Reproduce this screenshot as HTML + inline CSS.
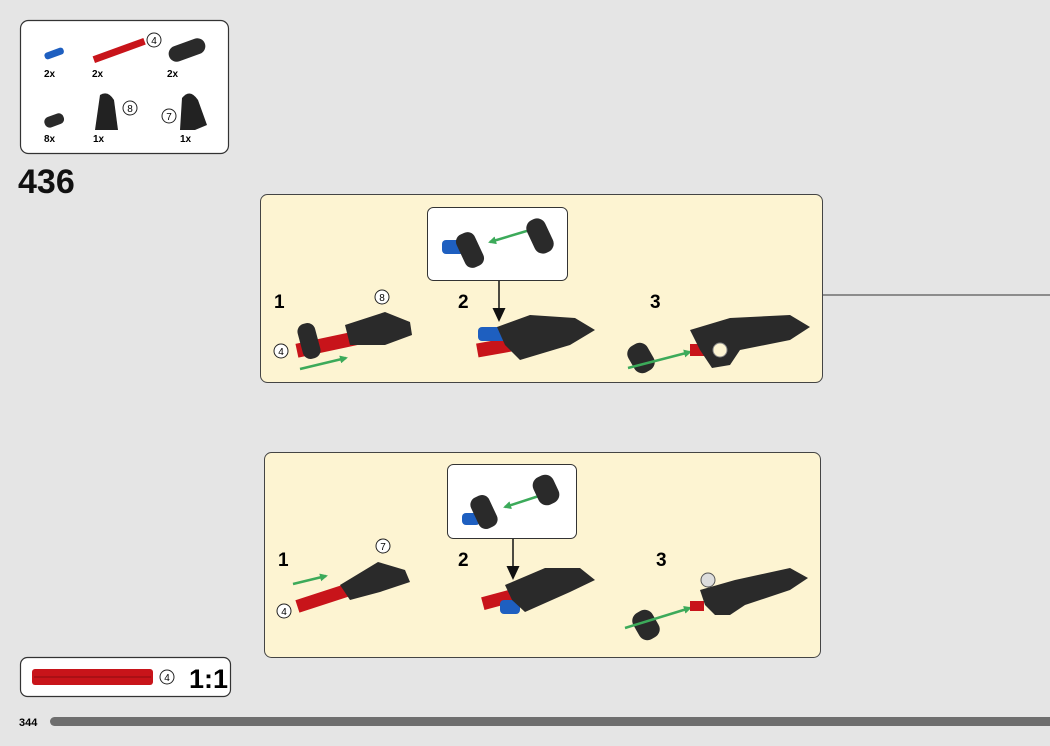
<!DOCTYPE html>
<html><head><meta charset="utf-8"><style>
body{margin:0;width:1050px;height:746px;background:#e5e5e5;overflow:hidden;font-family:"Liberation Sans",sans-serif}
svg{position:absolute;left:0;top:0}
</style></head><body>
<svg width="1050" height="746" viewBox="0 0 1050 746" font-family="Liberation Sans, sans-serif">
<defs>
<marker id="ga" markerWidth="8" markerHeight="8" refX="6" refY="4" orient="auto" markerUnits="userSpaceOnUse"><path d="M0,0 L8,4 L0,8z" fill="#3caa5a"/></marker>
</defs>
<!-- parts list -->
<rect x="20.5" y="20.5" width="208" height="133" rx="8" fill="#fff" stroke="#333" stroke-width="1.2"/>
<rect x="44" y="50" width="20" height="7" rx="3" fill="#1e5fc0" transform="rotate(-20 54 53)"/>
<rect x="92" y="47" width="54" height="7" fill="#c8141a" transform="rotate(-20 119 50)"/>
<circle cx="154" cy="40" r="7" fill="#fff" stroke="#222"/><text x="154" y="44" font-size="10" text-anchor="middle">4</text>
<rect x="168" y="42" width="38" height="16" rx="8" fill="#2a2a2a" transform="rotate(-20 187 50)"/>
<text x="44" y="77" font-size="10" font-weight="bold">2x</text><text x="92" y="77" font-size="10" font-weight="bold">2x</text><text x="167" y="77" font-size="10" font-weight="bold">2x</text>
<rect x="44" y="115" width="20" height="11" rx="5" fill="#2a2a2a" transform="rotate(-20 54 120)"/>
<path d="M95,130 L100,95 Q108,90 114,100 L118,130z" fill="#222"/>
<circle cx="130" cy="108" r="7" fill="#fff" stroke="#222"/><text x="130" y="112" font-size="10" text-anchor="middle">8</text>
<path d="M180,130 L182,98 Q190,88 198,100 L207,125 L195,130z" fill="#222"/>
<circle cx="169" cy="116" r="7" fill="#fff" stroke="#222"/><text x="169" y="120" font-size="10" text-anchor="middle">7</text>
<text x="44" y="142" font-size="10" font-weight="bold">8x</text><text x="93" y="142" font-size="10" font-weight="bold">1x</text><text x="180" y="142" font-size="10" font-weight="bold">1x</text>
<text x="18" y="193" font-size="34" font-weight="bold" fill="#111">436</text>

<!-- panel 1 -->
<line x1="823" y1="295" x2="1050" y2="295" stroke="#333" stroke-width="1"/>
<rect x="260.5" y="194.5" width="562" height="188" rx="7" fill="#fdf4d2" stroke="#444" stroke-width="1"/>
<rect x="427.5" y="207.5" width="140" height="73" rx="6" fill="#fff" stroke="#333"/>
<rect x="442" y="240" width="22" height="14" rx="4" fill="#1e5fc0"/>
<rect x="460" y="232" width="20" height="36" rx="8" fill="#2a2a2a" transform="rotate(-25 470 250)"/>
<line x1="530" y1="230" x2="490" y2="242" stroke="#3caa5a" stroke-width="2.5" marker-end="url(#ga)"/>
<rect x="530" y="218" width="20" height="36" rx="9" fill="#2a2a2a" transform="rotate(-25 540 236)"/>
<line x1="499" y1="281" x2="499" y2="310" stroke="#111" stroke-width="1.5"/>
<path d="M492.5,308 L505.5,308 L499,322z" fill="#111"/>
<text x="274" y="308" font-size="19" font-weight="bold">1</text>
<text x="458" y="308" font-size="19" font-weight="bold">2</text>
<text x="650" y="308" font-size="19" font-weight="bold">3</text>
<rect x="296" y="335" width="85" height="14" fill="#c8141a" transform="rotate(-12 338 342)"/>
<rect x="300" y="323" width="18" height="36" rx="8" fill="#2a2a2a" transform="rotate(-15 309 341)"/>
<path d="M345,325 L385,312 L410,322 L412,335 L385,345 L350,345z" fill="#2a2a2a"/>
<circle cx="382" cy="297" r="7" fill="#fff" stroke="#222"/><text x="382" y="301" font-size="10" text-anchor="middle">8</text>
<circle cx="281" cy="351" r="7" fill="#fff" stroke="#222"/><text x="281" y="355" font-size="10" text-anchor="middle">4</text>
<line x1="300" y1="369" x2="346" y2="358" stroke="#3caa5a" stroke-width="2.5" marker-end="url(#ga)"/>
<rect x="477" y="340" width="40" height="14" fill="#c8141a" transform="rotate(-10 497 347)"/>
<rect x="478" y="327" width="30" height="14" rx="4" fill="#1e5fc0"/>
<path d="M497,327 L530,315 L575,318 L595,330 L570,345 L520,360 L505,345z" fill="#2a2a2a"/>
<rect x="630" y="343" width="22" height="30" rx="9" fill="#2a2a2a" transform="rotate(-30 641 358)"/>
<line x1="628" y1="368" x2="690" y2="352" stroke="#3caa5a" stroke-width="2.5" marker-end="url(#ga)"/>
<rect x="690" y="344" width="18" height="12" fill="#c8141a"/>
<path d="M690,330 L730,318 L790,315 L810,327 L790,340 L740,350 L730,365 L712,368 L700,350z" fill="#2a2a2a"/>
<circle cx="720" cy="350" r="7" fill="#fdf4d2" stroke="#888"/>

<!-- panel 2 -->
<rect x="264.5" y="452.5" width="556" height="205" rx="7" fill="#fdf4d2" stroke="#444"/>
<rect x="447.5" y="464.5" width="129" height="74" rx="6" fill="#fff" stroke="#333"/>
<rect x="462" y="513" width="18" height="12" rx="4" fill="#1e5fc0"/>
<rect x="474" y="495" width="20" height="34" rx="8" fill="#2a2a2a" transform="rotate(-25 484 512)"/>
<line x1="545" y1="494" x2="505" y2="507" stroke="#3caa5a" stroke-width="2.5" marker-end="url(#ga)"/>
<rect x="535" y="475" width="22" height="30" rx="9" fill="#2a2a2a" transform="rotate(-25 546 490)"/>
<line x1="513" y1="539" x2="513" y2="568" stroke="#111" stroke-width="1.5"/>
<path d="M506.5,566 L519.5,566 L513,580z" fill="#111"/>
<text x="278" y="566" font-size="19" font-weight="bold">1</text>
<text x="458" y="566" font-size="19" font-weight="bold">2</text>
<text x="656" y="566" font-size="19" font-weight="bold">3</text>
<line x1="293" y1="584" x2="326" y2="576" stroke="#3caa5a" stroke-width="2.5" marker-end="url(#ga)"/>
<rect x="296" y="590" width="65" height="13" fill="#c8141a" transform="rotate(-18 328 597)"/>
<path d="M340,585 L378,562 L405,570 L410,582 L380,592 L350,600z" fill="#2a2a2a"/>
<circle cx="383" cy="546" r="7" fill="#fff" stroke="#222"/><text x="383" y="550" font-size="10" text-anchor="middle">7</text>
<circle cx="284" cy="611" r="7" fill="#fff" stroke="#222"/><text x="284" y="615" font-size="10" text-anchor="middle">4</text>
<rect x="482" y="592" width="40" height="13" fill="#c8141a" transform="rotate(-15 502 598)"/>
<rect x="500" y="600" width="20" height="14" rx="4" fill="#1e5fc0"/>
<path d="M505,585 L545,568 L580,568 L595,580 L570,592 L525,612 L512,600z" fill="#2a2a2a"/>
<rect x="635" y="610" width="22" height="30" rx="9" fill="#2a2a2a" transform="rotate(-30 646 625)"/>
<line x1="625" y1="628" x2="690" y2="608" stroke="#3caa5a" stroke-width="2.5" marker-end="url(#ga)"/>
<rect x="690" y="601" width="14" height="10" fill="#c8141a"/>
<path d="M700,590 L735,580 L790,568 L808,578 L790,590 L745,605 L730,615 L715,615 L705,605z" fill="#2a2a2a"/>
<circle cx="708" cy="580" r="7" fill="#ddd" stroke="#555"/>

<!-- bottom -->
<rect x="20.5" y="657.5" width="210" height="39" rx="7" fill="#fff" stroke="#333" stroke-width="1.2"/>
<rect x="32" y="669" width="121" height="16" rx="3" fill="#c8141a"/>
<line x1="34" y1="677" x2="151" y2="677" stroke="#8c0c10" stroke-width="1"/>
<circle cx="167" cy="677" r="7" fill="#fff" stroke="#222"/><text x="167" y="681" font-size="10" text-anchor="middle">4</text>
<text x="189" y="688" font-size="27" font-weight="bold">1:1</text>
<text x="19" y="726" font-size="11" font-weight="bold">344</text>
<rect x="50" y="717" width="1010" height="9" rx="4.5" fill="#6e6e6e"/>
</svg>
</body></html>
